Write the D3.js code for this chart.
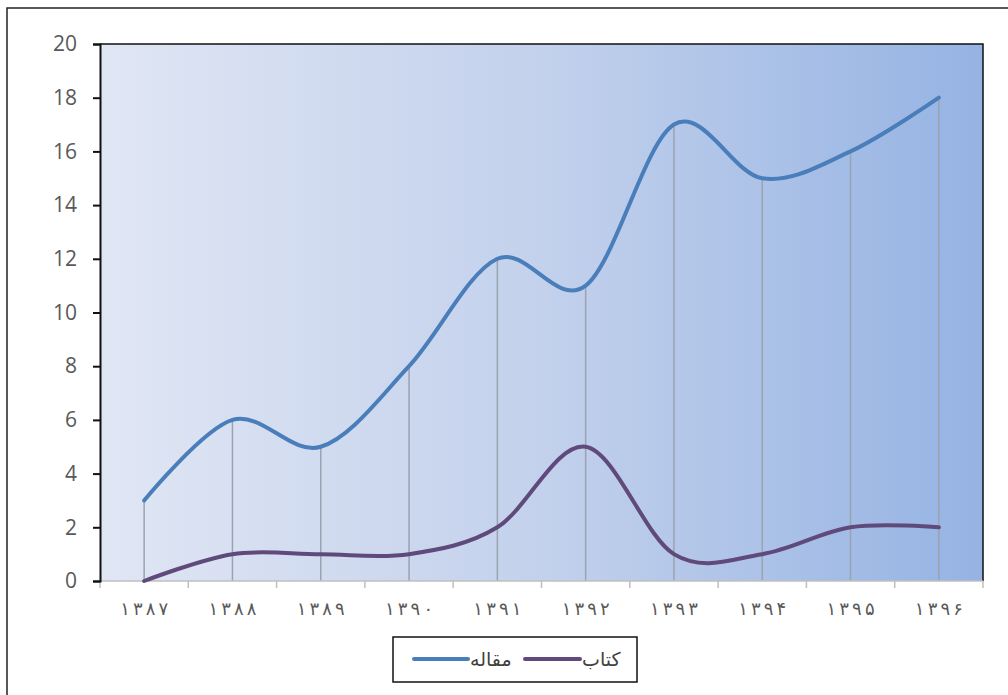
<!DOCTYPE html>
<html>
<head>
<meta charset="utf-8">
<script src="https://cdn.jsdelivr.net/npm/d3@7"></script>
<style>
  body { margin:0; background:#fff; }
  svg { display:block; }
</style>
</head>
<body>
<div id="chart"></div>
<script>
/* ---------- data ---------- */
const years   = ["۱۳۸۷","۱۳۸۸","۱۳۸۹","۱۳۹۰","۱۳۹۱","۱۳۹۲","۱۳۹۳","۱۳۹۴","۱۳۹۵","۱۳۹۶"];
const articles = [3, 6, 5, 8, 12, 11, 17, 15, 16, 18];   // مقاله
const books    = [0, 1, 1, 1, 2, 5, 1, 1, 2, 2];         // کتاب
const yTicks   = [0, 2, 4, 6, 8, 10, 12, 14, 16, 18, 20];
const seriesNames = ["مقاله", "کتاب"];

/* ---------- layout ---------- */
const W = 1008, H = 695;
const m = {left:100, right:1008-983, top:44, bottom:695-581};
const w = W - m.left - m.right, h = H - m.top - m.bottom;

const svg = d3.select("#chart").append("svg").attr("width", W).attr("height", H);

// outer chart border (runs off the right/bottom edge)
svg.append("rect").attr("x", 7).attr("y", 8).attr("width", W + 10).attr("height", H + 10)
   .attr("fill", "none").attr("stroke", "#222").attr("stroke-width", 1.5);

const defs = svg.append("defs");
const grad = defs.append("linearGradient").attr("id", "bg").attr("x1", "0").attr("x2", "1");
grad.append("stop").attr("offset", "0").attr("stop-color", "#e0e6f4");
grad.append("stop").attr("offset", "0.5").attr("stop-color", "#c3d1ec");
grad.append("stop").attr("offset", "1").attr("stop-color", "#95b3e3");

const g = svg.append("g").attr("transform", `translate(${m.left},${m.top})`);

const x = d3.scaleBand().domain(years).range([0, w]);
const y = d3.scaleLinear().domain([0, 20]).range([h, 0]);
const cx = d => x(d) + x.bandwidth() / 2;

// plot area
g.append("rect").attr("width", w).attr("height", h).attr("fill", "url(#bg)");
// top + right border of plot area
g.append("path").attr("d", `M0,0H${w}V${h}`).attr("fill", "none")
 .attr("stroke", "#111").attr("stroke-width", 1.5);

// drop lines
g.selectAll(".drop").data(years).enter().append("line")
 .attr("x1", cx).attr("x2", cx)
 .attr("y1", (d, i) => y(Math.max(articles[i], books[i]))).attr("y2", h)
 .attr("stroke", "#9aa3b0").attr("stroke-width", 1.5);

// x axis
const xAxis = g.append("g").attr("transform", `translate(0,${h})`);
xAxis.append("line").attr("x1", 0).attr("x2", w).attr("stroke", "#bfbfbf").attr("stroke-width", 1.5);
xAxis.selectAll(".xt").data(d3.range(years.length + 1)).enter().append("line")
 .attr("x1", i => i * x.bandwidth()).attr("x2", i => i * x.bandwidth())
 .attr("y1", 0).attr("y2", 7).attr("stroke", "#bfbfbf").attr("stroke-width", 1.5);
xAxis.selectAll(".xl").data(years).enter().append("text")
 .attr("x", d => cx(d) - 24).attr("y", 34).attr("text-anchor", "start")
 .attr("textLength", 48).attr("lengthAdjust", "spacing")
 .attr("font-family", "DejaVu Sans").attr("font-size", 18)
 .attr("fill", "#595959").text(d => d);

// y axis
const yAxis = g.append("g").call(d3.axisLeft(y).tickValues(yTicks).tickSize(7).tickPadding(16));
yAxis.select(".domain").attr("stroke", "#111").attr("stroke-width", 2);
yAxis.selectAll(".tick line").attr("stroke", "#111").attr("stroke-width", 2);
yAxis.selectAll(".tick text").attr("font-family", "Open Sans").attr("font-size", 21)
 .attr("fill", "#595959");

// series lines
const line = d3.line().x((d, i) => cx(years[i])).y(d => y(d)).curve(d3.curveCatmullRom.alpha(0));
const colors = ["#4a7ebb", "#604a7b"];
[articles, books].forEach((s, k) => {
  g.append("path").datum(s).attr("d", line).attr("fill", "none")
   .attr("stroke", colors[k]).attr("stroke-width", 4).attr("stroke-linecap", "round");
});

// legend
const lg = svg.append("g");
lg.append("rect").attr("x", 393).attr("y", 637).attr("width", 244).attr("height", 45)
  .attr("fill", "#fff").attr("stroke", "#111").attr("stroke-width", 1.5);
const items = [
  {name: seriesNames[0], color: colors[0], x1: 414, x2: 468, tx: 470},
  {name: seriesNames[1], color: colors[1], x1: 525, x2: 580, tx: 582}
];
items.forEach(it => {
  lg.append("line").attr("x1", it.x1).attr("x2", it.x2).attr("y1", 659).attr("y2", 659)
    .attr("stroke", it.color).attr("stroke-width", 4).attr("stroke-linecap", "round");
  lg.append("text").attr("x", it.tx).attr("y", 666).attr("font-family", "DejaVu Sans")
    .attr("font-size", 19).attr("fill", "#404040").attr("text-anchor", "start")
    .style("direction", "ltr").text(it.name);
});
</script>
</body>
</html>
